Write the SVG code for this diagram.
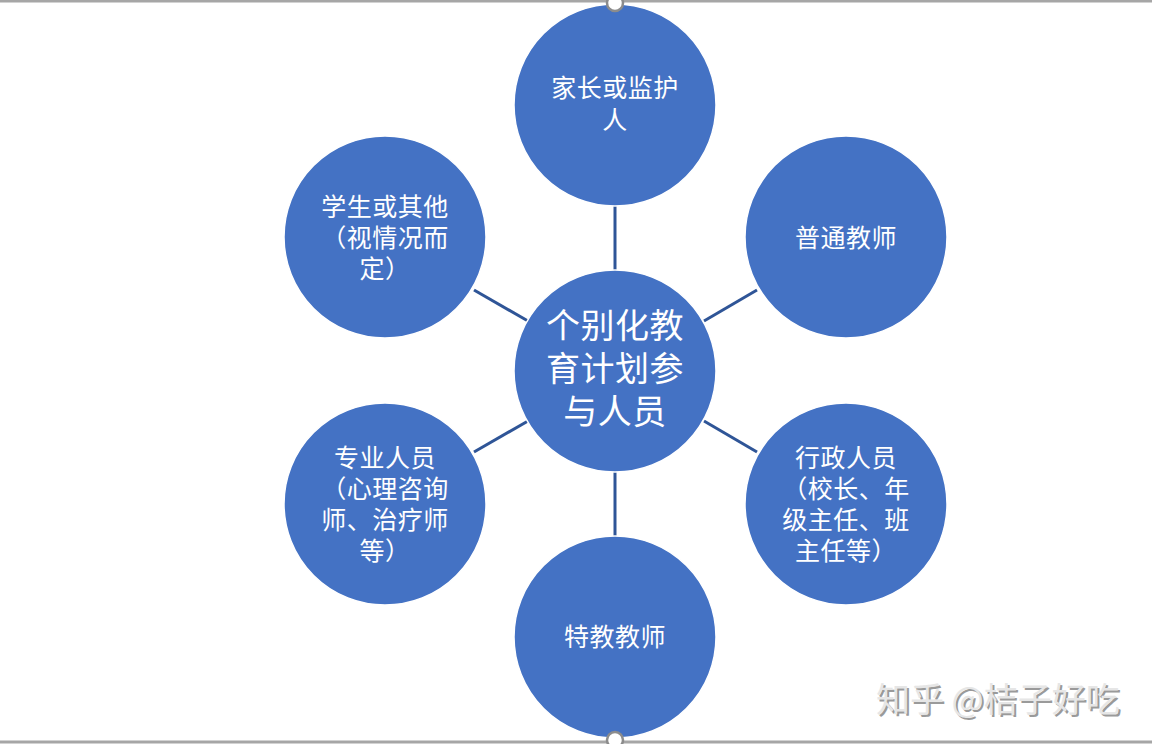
<svg xmlns="http://www.w3.org/2000/svg" width="1152" height="744" viewBox="0 0 1152 744">
<style>
.node{fill:#4472C4;stroke:#ffffff;stroke-width:1.5}
.t{fill:#ffffff;font-family:"Liberation Sans","Noto Sans CJK SC",sans-serif;font-size:25px;letter-spacing:0.5px;text-anchor:middle;dominant-baseline:central}
.big{font-size:34px;letter-spacing:0.5px}
.edge{stroke:#2F5597;stroke-width:3;fill:none}
.wm{font-family:"Noto Sans CJK SC",sans-serif;font-size:34px;dominant-baseline:central}
</style>
<rect width="1152" height="744" fill="#ffffff"/>
<line x1="0" y1="1" x2="1152" y2="1" stroke="#a6a6a6" stroke-width="3"/>
<line x1="0" y1="742" x2="1152" y2="742" stroke="#a6a6a6" stroke-width="3"/>
<g id="connectors">
<line class="edge" x1="615" y1="205" x2="615" y2="270"/>
<line class="edge" x1="615" y1="472" x2="615" y2="537"/>
<line class="edge" x1="474" y1="290" x2="528" y2="321"/>
<line class="edge" x1="704" y1="321" x2="757" y2="290"/>
<line class="edge" x1="474" y1="452" x2="528" y2="421"/>
<line class="edge" x1="704" y1="421" x2="757" y2="452"/>
</g>
<g id="center">
<circle class="node" cx="615" cy="371" r="101"/>
<text class="t big" x="615" y="326">个别化教</text>
<text class="t big" x="615" y="369">育计划参</text>
<text class="t big" x="615" y="412">与人员</text>
</g>
<g id="parent">
<circle class="node" cx="615" cy="105" r="101"/>
<text class="t" x="615" y="88">家长或监护</text>
<text class="t" x="615" y="120">人</text>
</g>
<g id="general-teacher">
<circle class="node" cx="846" cy="237" r="101"/>
<text class="t" x="846" y="238">普通教师</text>
</g>
<g id="admin">
<circle class="node" cx="846" cy="504" r="101"/>
<text class="t" x="846" y="458">行政人员</text>
<text class="t" x="846" y="489">（校长、年</text>
<text class="t" x="846" y="520">级主任、班</text>
<text class="t" x="846" y="551">主任等）</text>
</g>
<g id="special-teacher">
<circle class="node" cx="615" cy="637" r="101"/>
<text class="t" x="615" y="637">特教教师</text>
</g>
<g id="professional">
<circle class="node" cx="385" cy="504" r="101"/>
<text class="t" x="385" y="458">专业人员</text>
<text class="t" x="385" y="489">（心理咨询</text>
<text class="t" x="385" y="520">师、治疗师</text>
<text class="t" x="385" y="551">等）</text>
</g>
<g id="student">
<circle class="node" cx="385" cy="237" r="101"/>
<text class="t" x="385" y="207">学生或其他</text>
<text class="t" x="385" y="238">（视情况而</text>
<text class="t" x="385" y="269">定）</text>
</g>
<circle cx="615" cy="3" r="8" fill="#ffffff" stroke="#8c8c8c" stroke-width="2.5"/>
<circle cx="615" cy="740" r="8" fill="#ffffff" stroke="#8c8c8c" stroke-width="2.5"/>
<text class="wm" x="878" y="699" fill="#9a9a9a">知乎 @桔子好吃</text>
<text class="wm" x="876" y="697" fill="#e6e6e6">知乎 @桔子好吃</text>
</svg>
